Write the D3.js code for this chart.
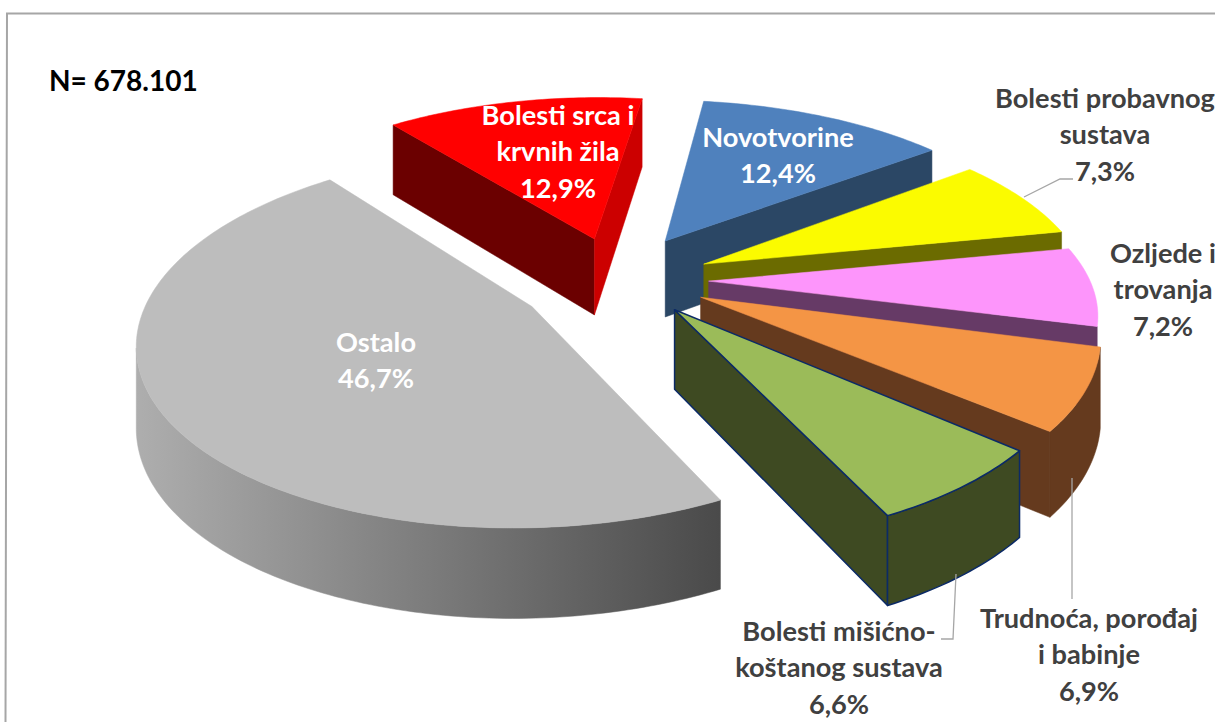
<!DOCTYPE html>
<html><head><meta charset="utf-8">
<script src="https://cdnjs.cloudflare.com/ajax/libs/d3/7.8.5/d3.min.js"></script>
<style>html,body{margin:0;padding:0;background:#fff;overflow:hidden}text{font-family:Lato,"Open Sans",sans-serif;font-weight:700}</style>
</head><body><svg id="c" width="1215" height="722"></svg>
<script>
const categories=["Bolesti srca i krvnih žila","Novotvorine","Bolesti probavnog sustava","Ozljede i trovanja","Trudnoća, porođaj i babinje","Bolesti mišićno-koštanog sustava","Ostalo"];
const values=[12.9,12.4,7.3,7.2,6.9,6.6,46.7];
const explode=[0.262,0.26,0.228,0.217,0.217,0.21,0.28];
const explodeTilt=[-3,-5.5,0,0,0,2,0];
const sliceRotate=[0,0,0,0,0,1,0];
const depthStretch=[1.04,1.03,1.03,1,1.06,1.06,1.02];
const widthStretch=[1,1.01,1,0.99,1,0.995,0.98];
const topColors=["#ff0000","#4f81bd","#fbfb00","#fd95fb","#f49545","#9bbb59","#bdbdbd"];
const cutStartColors=["#6b0000","#2b4765","#6b6b00","#663a66","#653a1e","#3e4a22","#555"];
const cutEndColors=["#cc0000","#2b4765","#6b6b00","#663a66","#653a1e","#3e4a22","#555"];
const wallColors=["#cc0000","#2b4765",null,null,"#653a1e","#3e4a22","url(#wall)"];
const labelLines=[["Bolesti srca i","krvnih žila","12,9%"],["Novotvorine","12,4%"],["Bolesti probavnog","sustava","7,3%"],["Ozljede i","trovanja","7,2%"],["Trudnoća, porođaj","i babinje","6,9%"],["Bolesti mišićno-","koštanog sustava","6,6%"],["Ostalo","46,7%"]];
const labelX=[558,778,1105,1163,1089,839,376];
const labelY=[125,147,108,263,628,641,352];
const labelFill=["#fff","#fff","#404040","#404040","#404040","#404040","#fff"];

const svg=d3.select("#c");
const cx=625,cy=280,R=385,T=0.445,K=0.163,H=78;
const x=d3.scaleLinear().domain([0,1]).range([cx,cx+R]);
const y=d3.scaleLinear().domain([0,1]).range([cy,cy+R*T]);
const project=(u,v,z)=>{const s=1/(1-K*v);return [x(u*s),y(v*s)+H*z*Math.pow(s,0.7)];};
const line=d3.line();
const rad=d=>d*Math.PI/180;

const defs=svg.append("defs");
const g=defs.append("linearGradient").attr("id","wall").attr("gradientUnits","userSpaceOnUse").attr("x1",100).attr("x2",720).attr("y1",0).attr("y2",0);
g.append("stop").attr("offset",0).attr("stop-color","#b4b4b4");
g.append("stop").attr("offset",1).attr("stop-color","#4a4a4a");

// chart frame
svg.append("path").attr("d",line([[5.5,722],[7,13.5],[1215,13.5]])).attr("fill","none").attr("stroke","#a6a6a6").attr("stroke-width",2);

const pie=d3.pie().sort(null).startAngle(rad(-38.6)).endAngle(rad(321.4));
const arcs=pie(values);
values.forEach((_,i)=>{
  const a=arcs[i],rot=rad(sliceRotate[i]),sa=a.startAngle+rot,ea=a.endAngle+rot;
  const mid=(a.startAngle+a.endAngle)/2+rad(explodeTilt[i]),e=explode[i],st=depthStretch[i],wt=widthStretch[i];
  const ou=e*Math.sin(mid),ov=-e*Math.cos(mid);
  const n=Math.max(12,Math.round((ea-sa)*60));
  const ang=d3.range(n+1).map(k=>sa+(ea-sa)*k/n);
  const P=(t,z)=>project(ou+Math.sin(t)*wt,ov-Math.cos(t)*st,z);
  const A=z=>project(ou,ov,z);
  const stroke=i===5?"#0b2a66":null,sw=i===5?1.5:0;
  const gr=svg.append("g").attr("class","slice").attr("data-name",categories[i]);
  const face=(pts,fill)=>gr.append("path").attr("d",line(pts)+"Z").attr("fill",fill).attr("stroke",stroke||fill).attr("stroke-width",stroke?sw:0.5).attr("stroke-linejoin","round");
  const quad=(p,q,fill)=>{if(q(0)[0]<p(0)[0])face([p(0),q(0),q(1),p(1)],fill);};
  quad(z=>A(z),z=>P(sa,z),cutStartColors[i]);
  quad(z=>P(ea,z),z=>A(z),cutEndColors[i]);
  // outer wall: only the part turned towards the viewer
  const front=ang.filter((t,k)=>{const p=P(t,0);const prev=k>0?P(ang[k-1],0):null;const next=k<n?P(ang[k+1],0):null;return (prev&&p[0]<prev[0])||(next&&next[0]<p[0]);});
  if(front.length>1&&wallColors[i]){
    const topE=front.map(t=>P(t,0)),botE=front.map(t=>P(t,1)).reverse();
    face(topE.concat(botE),wallColors[i]);
  }
  face([A(0)].concat(ang.map(t=>P(t,0))),topColors[i]);
});

// leader lines
const leaders=[[[1024,197],[1060,179],[1073,179]],[[1072,478],[1072,599]],[[956,574],[953,639],[941,639]]];
leaders.forEach(l=>svg.append("path").attr("d",line(l)).attr("fill","none").attr("stroke","#a6a6a6").attr("stroke-width",1.3));

// labels
labelLines.forEach((ls,i)=>{
  const t=svg.append("text").attr("text-anchor","middle").attr("fill",labelFill[i]).attr("font-size",27.2);
  ls.forEach((s,k)=>t.append("tspan").attr("x",labelX[i]).attr("y",labelY[i]+k*36.4).text(s));
});
svg.append("text").attr("x",49).attr("y",91).attr("fill","#000").attr("font-size",28).text("N= 678.101");
</script></body></html>
